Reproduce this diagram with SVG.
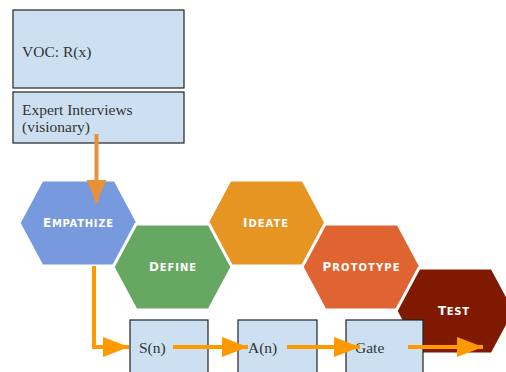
<svg xmlns="http://www.w3.org/2000/svg" width="506" height="372" viewBox="0 0 506 372">
<style>
.box{fill:#CCE0F1;stroke:#222;stroke-width:1.2}
.bt{font-family:"Liberation Serif",serif;font-size:15.5px;fill:#333}
.hex{stroke:#fff;stroke-width:3}
.ht{font-family:"DejaVu Sans",sans-serif;font-weight:bold;font-size:12px;font-variant:small-caps;fill:#fff;text-anchor:middle}
.sc{font-size:14.5px}
.ar{fill:none;stroke:#FF9900;stroke-width:4}
</style>
<defs>
<marker id="ah" markerUnits="userSpaceOnUse" markerWidth="26" markerHeight="20" refX="26" refY="10" orient="auto">
<path d="M0,0 L26,10 L0,20 Z" fill="#FF9900"/>
</marker>
<marker id="ah2" markerUnits="userSpaceOnUse" markerWidth="20" markerHeight="24" refX="23" refY="10" orient="auto">
<path d="M0,0 L23,10 L0,20 Z" fill="#E8913A"/>
</marker>
</defs>
<g id="voc"><rect class="box" x="13" y="10" width="171" height="78"/><text class="bt" x="22" y="57">VOC: R(x)</text></g>
<g id="expert"><rect class="box" x="13" y="92" width="171" height="51"/><text class="bt" x="22" y="115">Expert Interviews</text><text class="bt" x="22" y="132">(visionary)</text></g>
<g id="empathize"><polygon class="hex" fill="#7799DD" points="19,223 42,180 115,180 138,223 115,266 42,266"/><text class="ht" x="78" y="226.8" textLength="70">E<tspan class="sc">mpathize</tspan></text></g>
<g id="ideate"><polygon class="hex" fill="#E69522" points="207,223 230,180 303,180 326,223 303,266 230,266"/><text class="ht" x="265.5" y="226.8" textLength="45">I<tspan class="sc">deate</tspan></text></g>
<g id="define"><polygon class="hex" fill="#66A862" points="113,267 136,224 209,224 232,267 209,310 136,310"/><text class="ht" x="172.5" y="270.8" textLength="47">D<tspan class="sc">efine</tspan></text></g>
<g id="prototype"><polygon class="hex" fill="#E06332" points="302,267 325,224 398,224 421,267 398,310 325,310"/><text class="ht" x="361" y="270.8" textLength="77">P<tspan class="sc">rototype</tspan></text></g>
<g id="test"><polygon class="hex" fill="#7F1A00" points="396,311 419,268 492,268 515,311 492,354 419,354"/><text class="ht" x="453.5" y="314.8" textLength="31">T<tspan class="sc">est</tspan></text></g>
<g id="sn"><rect class="box" x="130" y="320" width="78" height="70"/><text class="bt" x="139" y="353">S(n)</text></g>
<g id="an"><rect class="box" x="238" y="320" width="79" height="70"/><text class="bt" x="248" y="353">A(n)</text></g>
<g id="gate"><rect class="box" x="346" y="320" width="77" height="70"/><text class="bt" x="355" y="353">Gate</text></g>
<g id="connectors">
<path d="M96.5,134 V203" fill="none" stroke="#E8913A" stroke-width="4" marker-end="url(#ah2)"/>
<path class="ar" d="M94,266 V347 H129" marker-end="url(#ah)"/>
<path class="ar" d="M173,347 H248" marker-end="url(#ah)"/>
<path class="ar" d="M287,347 H360" marker-end="url(#ah)"/>
<path class="ar" d="M408,347 H483" marker-end="url(#ah)"/>
</g>
</svg>
